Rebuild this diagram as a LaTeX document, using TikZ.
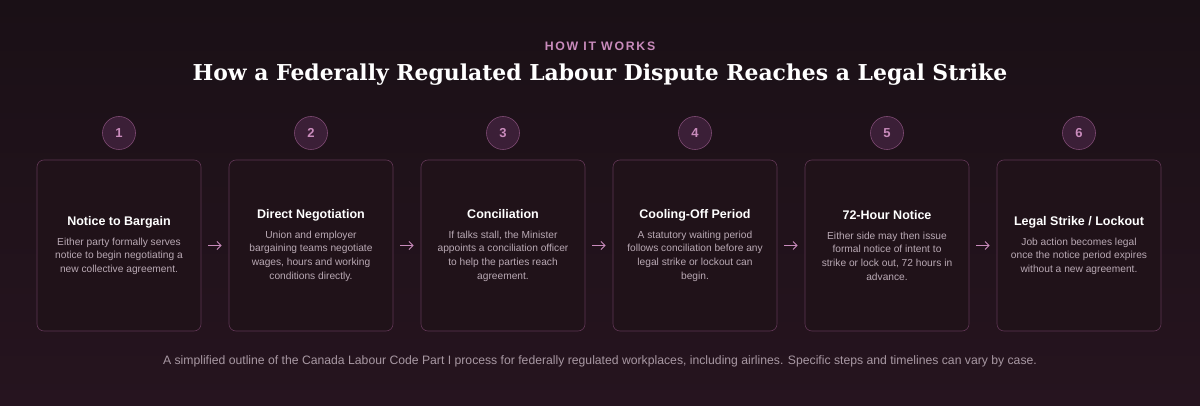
\documentclass[tikz,border=0pt]{standalone}
\usepackage{fontspec}
\setmainfont{Liberation Sans}
\newfontfamily\titlefont{DejaVu Serif}
\usetikzlibrary{positioning,arrows.meta}
\definecolor{bgtop}{HTML}{1A1016}
\definecolor{bgbot}{HTML}{26141F}
\definecolor{cardfill}{HTML}{201219}
\definecolor{cardline}{HTML}{5E3553}
\definecolor{dotfill}{HTML}{3B1F37}
\definecolor{dotline}{HTML}{7E4A73}
\definecolor{pinktext}{HTML}{C98BBC}
\definecolor{bodytext}{HTML}{B9A9B4}
\definecolor{foottext}{HTML}{A898A3}
\newcommand\stephead[1]{{\color{white}\fontsize{12.5}{15}\selectfont\bfseries #1}\\[6pt]}
\tikzset{
  card/.style={draw=cardline, fill=cardfill, rounded corners=7pt, minimum width=164pt, minimum height=171pt, line width=0.6pt},
  stepdot/.style={circle, draw=dotline, fill=dotfill, minimum size=33pt, inner sep=0pt, text=pinktext, font=\fontsize{13}{13}\selectfont\bfseries, line width=0.6pt},
  stepbody/.style={text=bodytext, align=center, font=\fontsize{10.2}{13.6}\selectfont},
  flow/.style={-{Straight Barb[length=4pt,width=8pt]}, draw=pinktext, line width=1pt}
}
\begin{document}
\begin{tikzpicture}[x=1pt, y=-1pt]
  \shade[top color=bgtop, bottom color=bgbot] (0,0) rectangle (1200,406);
  \useasboundingbox (0,0) rectangle (1200,406);
  % header
  \node (kicker) at (600,46) {\addfontfeature{LetterSpace=14}\color{pinktext}\fontsize{12.3}{13}\selectfont\bfseries HOW IT WORKS};
  \node (title) at (600,75) {\color{white}\titlefont\bfseries\fontsize{21.9}{25}\selectfont How a Federally Regulated Labour Dispute Reaches a Legal Strike};
  % steps
  \foreach \n/\head/\body in {
    1/{Notice to Bargain}/{Either party formally serves\\notice to begin negotiating a\\new collective agreement.},
    2/{Direct Negotiation}/{Union and employer\\bargaining teams negotiate\\wages, hours and working\\conditions directly.},
    3/{Conciliation}/{If talks stall, the Minister\\appoints a conciliation officer\\to help the parties reach\\agreement.},
    4/{Cooling-Off Period}/{A statutory waiting period\\follows conciliation before any\\legal strike or lockout can\\begin.},
    5/{72-Hour Notice}/{Either side may then issue\\formal notice of intent to\\strike or lock out, 72 hours in\\advance.},
    6/{Legal Strike {/} Lockout}/{Job action becomes legal\\once the notice period expires\\without a new agreement.}} {
    \node[card] (card\n) at ({119+192*(\n-1)},245.5) {};
    \node[stepdot] (dot\n) at ({119+192*(\n-1)},133) {\n};
    \node[stepbody] (text\n) at (card\n.center) {\stephead{\head}\body};
  }
  % connectors
  \foreach \a [count=\b from 2] in {1,...,5} {
    \draw[flow] ([xshift=7pt]card\a.east) -- ([xshift=-7pt]card\b.west);
  }
  % footnote
  \node[text=foottext, font=\fontsize{12.2}{14}\selectfont] (note) at (600,361) {A simplified outline of the Canada Labour Code Part I process for federally regulated workplaces, including airlines. Specific steps and timelines can vary by case.};
\end{tikzpicture}
\end{document}
